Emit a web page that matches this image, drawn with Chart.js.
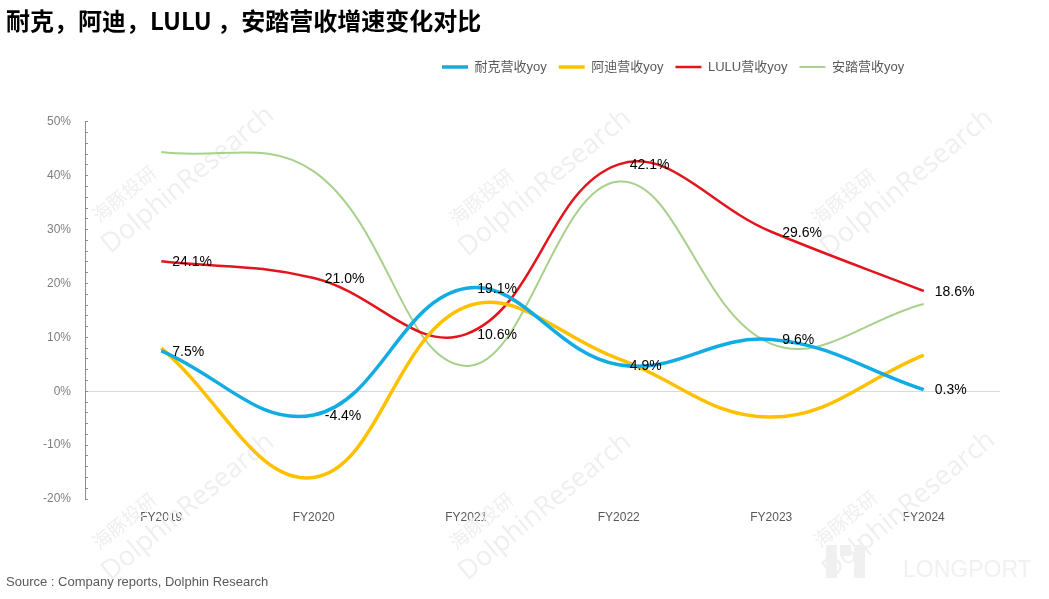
<!DOCTYPE html>
<html>
<head>
<meta charset="utf-8">
<script src="https://cdn.jsdelivr.net/npm/chart.js@4"></script>
<style>
  html, body { margin: 0; padding: 0; background: #fff; }
  #wrap { width: 1049px; height: 599px; position: relative; }
</style>
</head>
<body>
<div id="wrap"><canvas id="chart"></canvas></div>
<script>
// values (%)
const years = ["FY2019", "FY2020", "FY2021", "FY2022", "FY2023", "FY2024"];
const nike = [7.5, -4.4, 19.1, 4.9, 9.6, 0.3];
const adidas = [8.0, -16.0, 15.7, 6.0, -4.8, 6.7];
const lulu = [24.1, 21.0, 10.6, 42.1, 29.6, 18.6];
const anta = [44.4, 40.8, 4.7, 38.9, 8.8, 16.2];
const yMin = -20;
const yMax = 50;

const ctx = document.getElementById("chart").getContext("2d");

// light watermark behind the lines
const watermark = {
  id: "watermark",
  beforeDatasetsDraw(chart) {
    const c = chart.ctx;
    const spots = [
      [188, 180], [545, 183], [907, 183],
      [188, 507], [545, 507], [909, 505],
    ];
    c.save();
    c.fillStyle = "#efefef";
    c.textAlign = "center";
    c.textBaseline = "middle";
    spots.forEach(([x, y]) => {
      c.save();
      c.translate(x, y);
      c.rotate(-39.5 * Math.PI / 180);
      c.font = "27px 'Open Sans', sans-serif";
      c.fillText("DolphinResearch", 0, 0);
      c.font = "19px 'Noto Sans CJK SC', sans-serif";
      c.fillText("海豚投研", -58, -30);
      c.restore();
    });
    c.font = "23px 'Liberation Sans', sans-serif";
    c.fillStyle = "#f0f0f0";
    c.textAlign = "left";
    c.fillText("LONGPORT", 903, 571);
    c.fillRect(826, 545, 11, 33);
    c.fillRect(840, 545, 11, 11);
    c.fillRect(854, 545, 11, 33);
    c.restore();
  },
};

// number labels right of the points (耐克 and LULU only)
const valueLabels = {
  id: "valueLabels",
  afterDatasetsDraw(chart) {
    const c = chart.ctx;
    c.save();
    c.font = "14px 'Liberation Sans Narrow', 'Liberation Sans', sans-serif";
    c.fillStyle = "#000";
    c.textBaseline = "middle";
    chart.data.datasets.forEach((ds, i) => {
      if (!ds.showValues) return;
      chart.getDatasetMeta(i).data.forEach((pt, j) => {
        c.fillText(ds.data[j].toFixed(1) + "%", pt.x + 11, pt.y + 1);
      });
    });
    c.restore();
  },
};

// legend sits to the right, above the plot
const legendPlace = {
  id: "legendPlace",
  afterLayout(chart) {
    const lg = chart.legend;
    const pad = lg.options.labels.padding;
    lg.left = 442 - pad;
    lg.top = 67 - pad - 6.5;
    lg.bottom = lg.top + lg.height;
  },
};

Chart.defaults.font.family = "'Liberation Sans', 'Noto Sans CJK SC', sans-serif";

new Chart(ctx, {
  type: "line",
  data: {
    labels: years,
    datasets: [
      {
        label: "耐克营收yoy",
        data: nike,
        borderColor: "#12ACE3",
        backgroundColor: "#12ACE3",
        borderWidth: 3.5,
        showValues: true,
      },
      {
        label: "阿迪营收yoy",
        data: adidas,
        borderColor: "#FFC000",
        backgroundColor: "#FFC000",
        borderWidth: 3.5,
      },
      {
        label: "LULU营收yoy",
        data: lulu,
        borderColor: "#E3141B",
        backgroundColor: "#E3141B",
        borderWidth: 2.5,
        showValues: true,
      },
      {
        label: "安踏营收yoy",
        data: anta,
        borderColor: "#A9D18E",
        backgroundColor: "#A9D18E",
        borderWidth: 2,
      },
    ],
  },
  options: {
    responsive: true,
    maintainAspectRatio: false,
    animation: false,
    devicePixelRatio: 1,
    layout: { padding: { left: 6, right: 49, top: 6, bottom: 6 } },
    elements: {
      point: { radius: 0, hoverRadius: 0 },
      line: { tension: 0.4, fill: false },
    },
    scales: {
      x: {
        offset: true,
        grid: { display: false },
        border: { display: false },
        ticks: { color: "#595959", font: { size: 12 }, padding: 3 },
      },
      y: {
        min: yMin,
        max: yMax,
        afterFit: (s) => {
          s.width = 79;
        },
        border: { display: true, color: "#8c8c8c" },
        grid: {
          color: (c) => (c.tick && Math.abs(c.tick.value) < 1e-9 ? "#d9d9d9" : "rgba(0,0,0,0)"),
          tickColor: "#8c8c8c",
          tickLength: -3,
        },
        ticks: {
          stepSize: 2,
          autoSkip: false,
          color: "#7f7f7f",
          font: { size: 12 },
          padding: 17,
          callback: (v) => (Math.round(v) % 10 === 0 ? Math.round(v) + "%" : ""),
        },
      },
    },
    plugins: {
      title: {
        display: true,
        text: "耐克，阿迪，LULU ，安踏营收增速变化对比",
        align: "start",
        color: "#000",
        font: { size: 24, weight: "bold", family: "'Noto Sans CJK SC', sans-serif" },
        padding: { top: 0, bottom: 52 },
      },
      subtitle: {
        display: true,
        position: "bottom",
        align: "start",
        text: "Source : Company reports, Dolphin Research",
        color: "#595959",
        font: { size: 13 },
        padding: { top: 47, bottom: 3 },
      },
      legend: {
        position: "top",
        align: "start",
        labels: {
          usePointStyle: true,
          pointStyle: "line",
          pointStyleWidth: 26,
          padding: 12,
          color: "#595959",
          font: { size: 13 },
        },
      },
      tooltip: { enabled: false },
    },
  },
  plugins: [watermark, valueLabels, legendPlace],
});
</script>
</body>
</html>
